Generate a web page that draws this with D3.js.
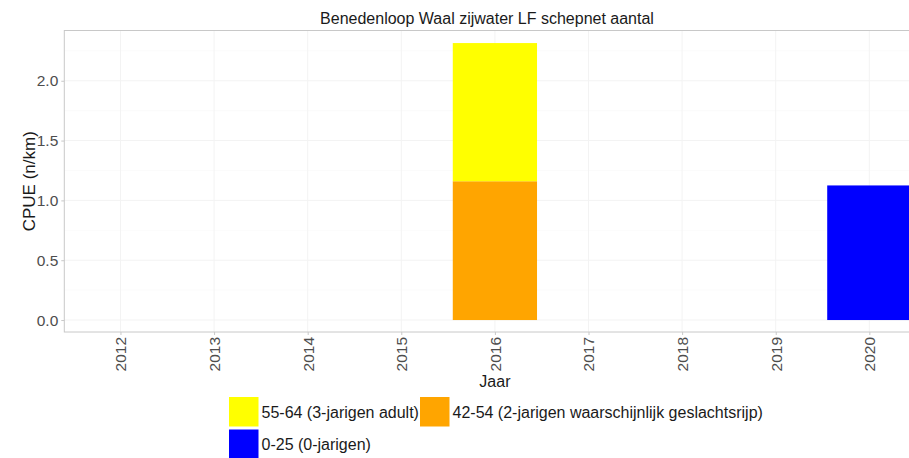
<!DOCTYPE html>
<html>
<head>
<meta charset="utf-8">
<script src="https://cdn.jsdelivr.net/npm/d3@7"></script>
<style>
body{margin:0;background:#fff;}
svg text{font-family:"Liberation Sans",Arial,sans-serif;}
</style>
</head>
<body>
<svg id="chart" width="909" height="458"></svg>
<script>
const title = "Benedenloop Waal zijwater LF schepnet aantal";
const years = ["2012","2013","2014","2015","2016","2017","2018","2019","2020"];
const seriesNames = ["0-25 (0-jarigen)","42-54 (2-jarigen waarschijnlijk geslachtsrijp)","55-64 (3-jarigen adult)"];
const seriesColors = ["#0000FF","#FFA500","#FFFF00"];
// values per year for each series (stack order: bottom to top)
const val_0_25  = [0,0,0,0,0,0,0,0,1.125];
const val_42_54 = [0,0,0,0,1.16,0,0,0,0];
const val_55_64 = [0,0,0,0,1.155,0,0,0,0];
const yTicks = [0,0.5,1.0,1.5,2.0];
const yMinor = [0.25,0.75,1.25,1.75,2.25];
const legendOrder = [2,1,0];

const svg = d3.select("#chart");
const L=64.3, R=925.5, T=30.5, B=332;
const x = d3.scalePoint().domain(years).range([L,R]).padding(0.6);
const y = d3.scaleLinear().domain([-0.1,2.42]).range([B,T]);
const bw = x.step()*0.9;

// grid
const g = svg.append("g");
g.selectAll(".ymin").data(yMinor).enter().append("line")
 .attr("x1",L).attr("x2",R).attr("y1",d=>y(d)).attr("y2",d=>y(d))
 .attr("stroke","#f8f8f8").attr("stroke-width",0.6);
g.selectAll(".ymaj").data(yTicks).enter().append("line")
 .attr("x1",L).attr("x2",R).attr("y1",d=>y(d)).attr("y2",d=>y(d))
 .attr("stroke","#f3f3f3").attr("stroke-width",1);
g.selectAll(".xmaj").data(years).enter().append("line")
 .attr("x1",d=>x(d)).attr("x2",d=>x(d)).attr("y1",T).attr("y2",B)
 .attr("stroke","#f3f3f3").attr("stroke-width",1);

// stacked bars
const rows = years.map((yr,i)=>({year:yr, s0:val_0_25[i], s1:val_42_54[i], s2:val_55_64[i]}));
const stack = d3.stack().keys(["s0","s1","s2"])(rows);
stack.forEach((layer,k)=>{
  svg.append("g").selectAll("rect").data(layer.filter(d=>d[1]-d[0]>0)).enter().append("rect")
   .attr("x",d=>x(d.data.year)-bw/2).attr("width",bw)
   .attr("y",d=>y(d[1])).attr("height",d=>y(d[0])-y(d[1]))
   .attr("fill",seriesColors[k]);
});

// panel border
svg.append("rect").attr("x",L).attr("y",T).attr("width",R-L).attr("height",B-T)
 .attr("fill","none").attr("stroke","#c8c8c8").attr("stroke-width",1);

// y axis
const ya = svg.append("g").attr("transform",`translate(${L},0)`)
 .call(d3.axisLeft(y).tickValues(yTicks).tickFormat(d3.format(".1f")).tickSize(3).tickPadding(3));
ya.select(".domain").remove();
ya.selectAll("line").attr("stroke","#c8c8c8");
ya.selectAll("text").attr("fill","#4d4d4d").style("font-size","15.5px");

// x axis
const xa = svg.append("g").attr("transform",`translate(0,${B})`)
 .call(d3.axisBottom(x).tickSize(3).tickPadding(3));
xa.select(".domain").remove();
xa.selectAll("line").attr("stroke","#c8c8c8");
xa.selectAll("text").attr("fill","#4d4d4d").style("font-size","15.5px")
 .attr("transform","rotate(-90)").attr("text-anchor","end")
 .attr("x",-5).attr("y",0).attr("dy","0.35em");

// titles
svg.append("text").attr("x",487).attr("y",24).attr("text-anchor","middle")
 .style("font-size","16px").attr("fill","#1a1a1a").text(title);
svg.append("text").attr("x",(L+R)/2).attr("y",387).attr("text-anchor","middle")
 .style("font-size","16px").attr("fill","#1a1a1a").text("Jaar");
svg.append("text").attr("transform",`translate(35,${(T+B)/2}) rotate(-90)`).attr("text-anchor","middle")
 .style("font-size","17px").attr("fill","#1a1a1a").text("CPUE (n/km)");

// legend
const legPos = [{x:229,y:397},{x:420,y:397},{x:229,y:429.5}];
legendOrder.forEach((si,j)=>{
  const p = legPos[j];
  svg.append("rect").attr("x",p.x).attr("y",p.y).attr("width",29.5).attr("height",29.5).attr("fill",seriesColors[si]);
  svg.append("text").attr("x",p.x+32.5).attr("y",p.y+20.5).style("font-size","16px").attr("fill","#1a1a1a").text(seriesNames[si]);
});
</script>
</body>
</html>
